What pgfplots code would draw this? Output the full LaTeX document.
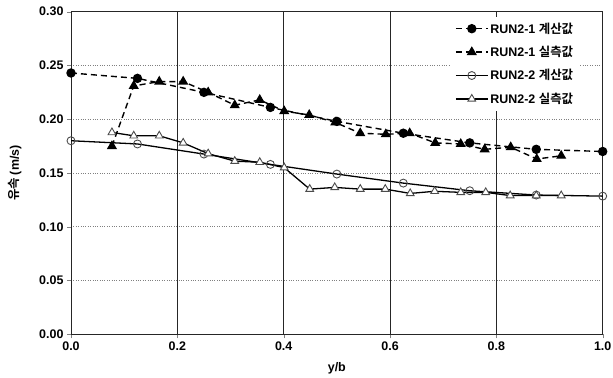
\documentclass[border=0pt]{standalone}
\usepackage{pgfplots}
\pgfplotsset{compat=1.18}
\usepackage{fontspec}
\setmainfont{Liberation Sans}
\newfontfamily\kr{Noto Sans CJK KR}[BoldFont={Noto Sans CJK KR Bold}]
\begin{document}
\begin{tikzpicture}
\useasboundingbox (0,0) rectangle (613bp,378bp);
\begin{axis}[
  at={(71bp,43.7bp)}, anchor=south west,
  scale only axis, width=531.7bp, height=322.6bp,
  xmin=0, xmax=1, ymin=0, ymax=0.3,
  xtick={0,0.2,0.4,0.6,0.8,1.0},
  ytick={0,0.05,0.10,0.15,0.20,0.25,0.30},
  xticklabel style={/pgf/number format/.cd,fixed,fixed zerofill,precision=1},
  yticklabel style={/pgf/number format/.cd,fixed,fixed zerofill,precision=2},
  /pgf/number format/assume math mode=true,
  tick label style={font=\fontsize{12.5}{14}\selectfont\bfseries},
  tick align=outside, tick pos=left, major tick length=4bp,
  xmajorgrids, ymajorgrids,
  x grid style={black!85, line width=0.9pt},
  y grid style={black!50, dotted, line width=0.9pt},
  axis line style={black!85, line width=1pt},
  xlabel={\bfseries y/b},
  ylabel={\kr\bfseries 유속 \rmfamily(m/s)},
  label style={font=\fontsize{12.5}{14}\selectfont\bfseries},
  xlabel style={at={(axis description cs:0.5,-0.105)}, anchor=center},
  ylabel style={at={(axis description cs:-0.105,0.5)}, anchor=center},
  legend style={at={(0.958,0.985)}, anchor=north east, draw=none, fill=white,
    font=\fontsize{12.5}{14}\selectfont\bfseries, row sep=7.5bp, inner xsep=5bp, inner ysep=4bp},
  legend cell align=left,
  legend image code/.code={\draw[mark repeat=2,mark phase=2] plot coordinates {(0cm,0cm)(0.56cm,0cm)(1.12cm,0cm)};},
]
% RUN2-1 calculated
\addplot[black, line width=1.4pt, dash pattern=on 6bp off 4bp, mark=*, mark size=4pt, mark options={solid, fill=black}]
coordinates {(0,0.243)(0.125,0.238)(0.25,0.225)(0.375,0.211)(0.5,0.198)(0.625,0.187)(0.75,0.178)(0.875,0.172)(1.0,0.170)};
\addlegendentry{RUN2-1 {\kr\bfseries 계산값}}
% RUN2-1 measured
\addplot[black, line width=1.4pt, dash pattern=on 6bp off 4bp, mark=triangle*, mark size=4.5pt, mark options={solid, fill=black}]
coordinates {(0.077,0.175)(0.118,0.231)(0.166,0.235)(0.211,0.235)(0.258,0.225)(0.308,0.213)(0.355,0.218)(0.401,0.2075)(0.448,0.204)(0.497,0.197)(0.544,0.187)(0.592,0.186)(0.637,0.187)(0.685,0.178)(0.733,0.177)(0.778,0.172)(0.827,0.174)(0.876,0.163)(0.922,0.166)};
\addlegendentry{RUN2-1 {\kr\bfseries 실측값}}
% RUN2-2 calculated
\addplot[black, line width=1.3pt, mark=o, mark size=4pt, mark options={solid, fill=white, draw=black!70, line width=0.9pt}]
coordinates {(0,0.180)(0.125,0.177)(0.25,0.1676)(0.375,0.158)(0.5,0.149)(0.625,0.1406)(0.75,0.1335)(0.875,0.1295)(1.0,0.1285)};
\addlegendentry{RUN2-2 {\kr\bfseries 계산값}}
% RUN2-2 measured
\addplot[black, line width=1.3pt, mark=triangle*, mark size=4.5pt, mark options={solid, fill=white, draw=black!70, line width=0.9pt}]
coordinates {(0.077,0.1877)(0.118,0.1846)(0.166,0.1846)(0.211,0.178)(0.258,0.168)(0.308,0.161)(0.355,0.160)(0.401,0.155)(0.449,0.135)(0.496,0.1366)(0.544,0.135)(0.591,0.135)(0.638,0.131)(0.684,0.133)(0.733,0.132)(0.780,0.132)(0.826,0.129)(0.875,0.129)(0.922,0.129)};
\addlegendentry{RUN2-2 {\kr\bfseries 실측값}}
\end{axis}
\end{tikzpicture}
\end{document}
